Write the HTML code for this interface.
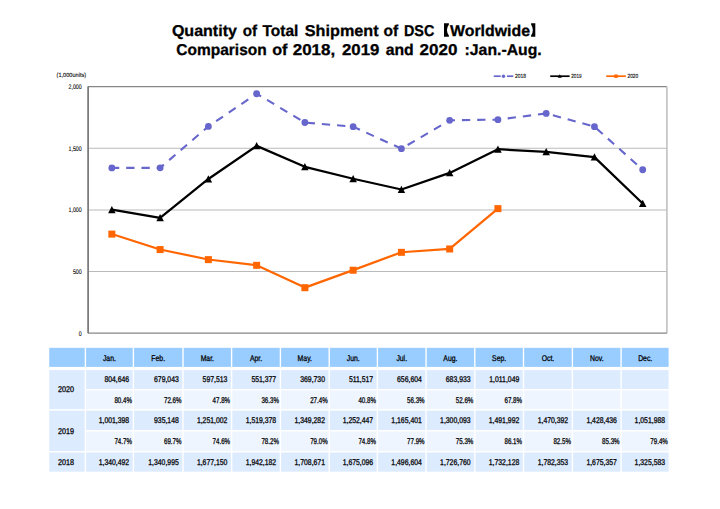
<!DOCTYPE html>
<html><head><meta charset="utf-8"><title>DSC Shipment</title>
<style>html,body{margin:0;padding:0;background:#fff;}svg{display:block;text-rendering:geometricPrecision;}body{font-family:"Liberation Sans",sans-serif;}</style>
</head><body>
<svg width="720" height="509" viewBox="0 0 720 509">
<rect width="720" height="509" fill="#fff"/>
<g font-family="Liberation Sans, sans-serif" font-weight="bold" font-size="15.7" fill="#000" stroke="#000" stroke-width="0.3">
<text x="171.90" y="35.60" textLength="64.99" lengthAdjust="spacingAndGlyphs">Quantity</text>
<text x="242.80" y="35.60" textLength="14.37" lengthAdjust="spacingAndGlyphs">of</text>
<text x="262.50" y="35.60" textLength="35.81" lengthAdjust="spacingAndGlyphs">Total</text>
<text x="304.80" y="35.60" textLength="73.79" lengthAdjust="spacingAndGlyphs">Shipment</text>
<text x="383.60" y="35.60" textLength="14.67" lengthAdjust="spacingAndGlyphs">of</text>
<text x="404.00" y="35.60" textLength="30.30" lengthAdjust="spacingAndGlyphs">DSC</text>
<text x="450.00" y="35.60" textLength="80.00" lengthAdjust="spacingAndGlyphs">Worldwide</text>
<text x="176.30" y="54.70" textLength="90.40" lengthAdjust="spacingAndGlyphs">Comparison</text>
<text x="272.20" y="54.70" textLength="15.27" lengthAdjust="spacingAndGlyphs">of</text>
<text x="292.70" y="54.70" textLength="42.51" lengthAdjust="spacingAndGlyphs">2018,</text>
<text x="342.00" y="54.70" textLength="37.39" lengthAdjust="spacingAndGlyphs">2019</text>
<text x="385.70" y="54.70" textLength="28.00" lengthAdjust="spacingAndGlyphs">and</text>
<text x="419.60" y="54.70" textLength="37.89" lengthAdjust="spacingAndGlyphs">2020</text>
<text x="464.60" y="54.70" textLength="77.10" lengthAdjust="spacingAndGlyphs">:Jan.-Aug.</text>
</g>
<path d="M444 23.2 H448.9 V24.4 Q445.0 30 448.9 35.5 V36.7 H444 Z" fill="#000"/>
<path d="M535.3 23.2 H531.1 V24.4 Q534.6 30 531.1 35.5 V36.7 H535.3 Z" fill="#000"/>
<line x1="88.1" x2="666.9" y1="271.55" y2="271.55" stroke="#bababa" stroke-width="1.05"/>
<line x1="88.1" x2="666.9" y1="209.90" y2="209.90" stroke="#bababa" stroke-width="1.05"/>
<line x1="88.1" x2="666.9" y1="148.25" y2="148.25" stroke="#bababa" stroke-width="1.05"/>
<line x1="88.1" x2="666.9" y1="86.6" y2="86.6" stroke="#868686" stroke-width="1.2"/>
<line x1="666.9" x2="666.9" y1="86.6" y2="333.2" stroke="#bdbdbd" stroke-width="1.5"/>
<line x1="88.1" x2="666.9" y1="333.2" y2="333.2" stroke="#868686" stroke-width="1.2"/>
<line x1="88.1" x2="88.1" y1="86.6" y2="333.2" stroke="#6e6e6e" stroke-width="1.6"/>
<g font-family="Liberation Sans, sans-serif" font-size="6.6" fill="#000" stroke="#000" stroke-width="0.1">
<text x="78.76" y="335.65" textLength="2.94" lengthAdjust="spacingAndGlyphs">0</text>
<text x="72.89" y="274.00" textLength="8.81" lengthAdjust="spacingAndGlyphs">500</text>
<text x="68.49" y="212.35" textLength="13.21" lengthAdjust="spacingAndGlyphs">1,000</text>
<text x="68.49" y="150.70" textLength="13.21" lengthAdjust="spacingAndGlyphs">1,500</text>
<text x="68.49" y="89.05" textLength="13.21" lengthAdjust="spacingAndGlyphs">2,000</text>
</g>
<text x="56.6" y="77.3" font-family="Liberation Sans, sans-serif" font-size="6" stroke="#000" stroke-width="0.1" textLength="29.5" lengthAdjust="spacingAndGlyphs">(1,000units)</text>
<polyline points="111.85,167.92 160.11,167.86 208.37,126.41 256.63,93.73 304.89,122.52 353.15,126.66 401.41,148.67 449.67,120.29 497.93,119.63 546.19,113.44 594.45,126.63 642.71,169.76" fill="none" stroke="#6666cc" stroke-width="2.1" stroke-dasharray="8.3 6.97" stroke-dashoffset="0.92"/>
<circle cx="111.85" cy="167.92" r="3.4" fill="#6666cc"/>
<circle cx="160.11" cy="167.86" r="3.4" fill="#6666cc"/>
<circle cx="208.37" cy="126.41" r="3.4" fill="#6666cc"/>
<circle cx="256.63" cy="93.73" r="3.4" fill="#6666cc"/>
<circle cx="304.89" cy="122.52" r="3.4" fill="#6666cc"/>
<circle cx="353.15" cy="126.66" r="3.4" fill="#6666cc"/>
<circle cx="401.41" cy="148.67" r="3.4" fill="#6666cc"/>
<circle cx="449.67" cy="120.29" r="3.4" fill="#6666cc"/>
<circle cx="497.93" cy="119.63" r="3.4" fill="#6666cc"/>
<circle cx="546.19" cy="113.44" r="3.4" fill="#6666cc"/>
<circle cx="594.45" cy="126.63" r="3.4" fill="#6666cc"/>
<circle cx="642.71" cy="169.76" r="3.4" fill="#6666cc"/>
<polyline points="111.85,209.73 160.11,217.90 208.37,178.95 256.63,145.86 304.89,166.83 353.15,178.77 401.41,189.51 449.67,172.90 497.93,149.24 546.19,151.90 594.45,157.07 642.71,203.49" fill="none" stroke="#000000" stroke-width="2.25" stroke-linejoin="round"/>
<path d="M111.85 205.93 L115.60 213.18 L108.10 213.18 Z" fill="#000000"/>
<path d="M160.11 214.10 L163.86 221.35 L156.36 221.35 Z" fill="#000000"/>
<path d="M208.37 175.15 L212.12 182.40 L204.62 182.40 Z" fill="#000000"/>
<path d="M256.63 142.06 L260.38 149.31 L252.88 149.31 Z" fill="#000000"/>
<path d="M304.89 163.03 L308.64 170.28 L301.14 170.28 Z" fill="#000000"/>
<path d="M353.15 174.97 L356.90 182.22 L349.40 182.22 Z" fill="#000000"/>
<path d="M401.41 185.71 L405.16 192.96 L397.66 192.96 Z" fill="#000000"/>
<path d="M449.67 169.10 L453.42 176.35 L445.92 176.35 Z" fill="#000000"/>
<path d="M497.93 145.44 L501.68 152.69 L494.18 152.69 Z" fill="#000000"/>
<path d="M546.19 148.10 L549.94 155.35 L542.44 155.35 Z" fill="#000000"/>
<path d="M594.45 153.27 L598.20 160.52 L590.70 160.52 Z" fill="#000000"/>
<path d="M642.71 199.69 L646.46 206.94 L638.96 206.94 Z" fill="#000000"/>
<polyline points="111.85,233.99 160.11,249.47 208.37,259.53 256.63,265.22 304.89,287.61 353.15,270.13 401.41,252.24 449.67,248.87 497.93,208.54" fill="none" stroke="#ff6600" stroke-width="2.2" stroke-linejoin="round"/>
<rect x="108.35" y="230.59" width="7.0" height="7.0" fill="#ff6600"/>
<rect x="156.61" y="246.07" width="7.0" height="7.0" fill="#ff6600"/>
<rect x="204.87" y="256.13" width="7.0" height="7.0" fill="#ff6600"/>
<rect x="253.13" y="261.82" width="7.0" height="7.0" fill="#ff6600"/>
<rect x="301.39" y="284.21" width="7.0" height="7.0" fill="#ff6600"/>
<rect x="349.65" y="266.73" width="7.0" height="7.0" fill="#ff6600"/>
<rect x="397.91" y="248.84" width="7.0" height="7.0" fill="#ff6600"/>
<rect x="446.17" y="245.47" width="7.0" height="7.0" fill="#ff6600"/>
<rect x="494.43" y="205.14" width="7.0" height="7.0" fill="#ff6600"/>
<line x1="493.75" x2="500.7" y1="76.2" y2="76.2" stroke="#6666cc" stroke-width="1.7"/>
<line x1="507" x2="513.3" y1="76.2" y2="76.2" stroke="#6666cc" stroke-width="1.7"/>
<circle cx="503.5" cy="76.2" r="1.7" fill="#6666cc"/>
<line x1="550.2" x2="569.6" y1="76.2" y2="76.2" stroke="#000000" stroke-width="1.7"/>
<path d="M559.8 74.20 L561.8 77.80 L557.8 77.80 Z" fill="#000000"/>
<line x1="606.25" x2="625.8" y1="76.2" y2="76.2" stroke="#ff6600" stroke-width="1.7"/>
<rect x="614.3" y="74.50" width="3.4" height="3.4" fill="#ff6600"/>
<g font-family="Liberation Sans, sans-serif" font-size="6" fill="#000" stroke="#000" stroke-width="0.1">
<text x="515" y="78.40" textLength="11" lengthAdjust="spacingAndGlyphs">2018</text>
<text x="571.25" y="78.40" textLength="10.5" lengthAdjust="spacingAndGlyphs">2019</text>
<text x="627.5" y="78.40" textLength="10.7" lengthAdjust="spacingAndGlyphs">2020</text>
</g>
<rect x="49.25" y="347.80" width="35.45" height="19.10" fill="#99ccff"/>
<rect x="86.10" y="347.80" width="46.60" height="19.10" fill="#99ccff"/>
<rect x="86.10" y="370.10" width="46.60" height="18.90" fill="#ddebff"/>
<rect x="86.10" y="390.45" width="46.60" height="18.70" fill="#eef5ff"/>
<rect x="86.10" y="410.65" width="46.60" height="19.35" fill="#ddebff"/>
<rect x="86.10" y="431.50" width="46.60" height="19.50" fill="#eef5ff"/>
<rect x="86.10" y="452.50" width="46.60" height="19.20" fill="#ddebff"/>
<rect x="134.10" y="347.80" width="48.20" height="19.10" fill="#99ccff"/>
<rect x="134.10" y="370.10" width="48.20" height="18.90" fill="#ddebff"/>
<rect x="134.10" y="390.45" width="48.20" height="18.70" fill="#eef5ff"/>
<rect x="134.10" y="410.65" width="48.20" height="19.35" fill="#ddebff"/>
<rect x="134.10" y="431.50" width="48.20" height="19.50" fill="#eef5ff"/>
<rect x="134.10" y="452.50" width="48.20" height="19.20" fill="#ddebff"/>
<rect x="183.70" y="347.80" width="47.20" height="19.10" fill="#99ccff"/>
<rect x="183.70" y="370.10" width="47.20" height="18.90" fill="#ddebff"/>
<rect x="183.70" y="390.45" width="47.20" height="18.70" fill="#eef5ff"/>
<rect x="183.70" y="410.65" width="47.20" height="19.35" fill="#ddebff"/>
<rect x="183.70" y="431.50" width="47.20" height="19.50" fill="#eef5ff"/>
<rect x="183.70" y="452.50" width="47.20" height="19.20" fill="#ddebff"/>
<rect x="232.30" y="347.80" width="47.40" height="19.10" fill="#99ccff"/>
<rect x="232.30" y="370.10" width="47.40" height="18.90" fill="#ddebff"/>
<rect x="232.30" y="390.45" width="47.40" height="18.70" fill="#eef5ff"/>
<rect x="232.30" y="410.65" width="47.40" height="19.35" fill="#ddebff"/>
<rect x="232.30" y="431.50" width="47.40" height="19.50" fill="#eef5ff"/>
<rect x="232.30" y="452.50" width="47.40" height="19.20" fill="#ddebff"/>
<rect x="281.10" y="347.80" width="47.40" height="19.10" fill="#99ccff"/>
<rect x="281.10" y="370.10" width="47.40" height="18.90" fill="#ddebff"/>
<rect x="281.10" y="390.45" width="47.40" height="18.70" fill="#eef5ff"/>
<rect x="281.10" y="410.65" width="47.40" height="19.35" fill="#ddebff"/>
<rect x="281.10" y="431.50" width="47.40" height="19.50" fill="#eef5ff"/>
<rect x="281.10" y="452.50" width="47.40" height="19.20" fill="#ddebff"/>
<rect x="329.90" y="347.80" width="46.80" height="19.10" fill="#99ccff"/>
<rect x="329.90" y="370.10" width="46.80" height="18.90" fill="#ddebff"/>
<rect x="329.90" y="390.45" width="46.80" height="18.70" fill="#eef5ff"/>
<rect x="329.90" y="410.65" width="46.80" height="19.35" fill="#ddebff"/>
<rect x="329.90" y="431.50" width="46.80" height="19.50" fill="#eef5ff"/>
<rect x="329.90" y="452.50" width="46.80" height="19.20" fill="#ddebff"/>
<rect x="378.10" y="347.80" width="47.25" height="19.10" fill="#99ccff"/>
<rect x="378.10" y="370.10" width="47.25" height="18.90" fill="#ddebff"/>
<rect x="378.10" y="390.45" width="47.25" height="18.70" fill="#eef5ff"/>
<rect x="378.10" y="410.65" width="47.25" height="19.35" fill="#ddebff"/>
<rect x="378.10" y="431.50" width="47.25" height="19.50" fill="#eef5ff"/>
<rect x="378.10" y="452.50" width="47.25" height="19.20" fill="#ddebff"/>
<rect x="426.75" y="347.80" width="47.35" height="19.10" fill="#99ccff"/>
<rect x="426.75" y="370.10" width="47.35" height="18.90" fill="#ddebff"/>
<rect x="426.75" y="390.45" width="47.35" height="18.70" fill="#eef5ff"/>
<rect x="426.75" y="410.65" width="47.35" height="19.35" fill="#ddebff"/>
<rect x="426.75" y="431.50" width="47.35" height="19.50" fill="#eef5ff"/>
<rect x="426.75" y="452.50" width="47.35" height="19.20" fill="#ddebff"/>
<rect x="475.50" y="347.80" width="47.30" height="19.10" fill="#99ccff"/>
<rect x="475.50" y="370.10" width="47.30" height="18.90" fill="#ddebff"/>
<rect x="475.50" y="390.45" width="47.30" height="18.70" fill="#eef5ff"/>
<rect x="475.50" y="410.65" width="47.30" height="19.35" fill="#ddebff"/>
<rect x="475.50" y="431.50" width="47.30" height="19.50" fill="#eef5ff"/>
<rect x="475.50" y="452.50" width="47.30" height="19.20" fill="#ddebff"/>
<rect x="524.20" y="347.80" width="47.50" height="19.10" fill="#99ccff"/>
<rect x="524.20" y="370.10" width="47.50" height="18.90" fill="#ddebff"/>
<rect x="524.20" y="390.45" width="47.50" height="18.70" fill="#eef5ff"/>
<rect x="524.20" y="410.65" width="47.50" height="19.35" fill="#ddebff"/>
<rect x="524.20" y="431.50" width="47.50" height="19.50" fill="#eef5ff"/>
<rect x="524.20" y="452.50" width="47.50" height="19.20" fill="#ddebff"/>
<rect x="573.10" y="347.80" width="47.30" height="19.10" fill="#99ccff"/>
<rect x="573.10" y="370.10" width="47.30" height="18.90" fill="#ddebff"/>
<rect x="573.10" y="390.45" width="47.30" height="18.70" fill="#eef5ff"/>
<rect x="573.10" y="410.65" width="47.30" height="19.35" fill="#ddebff"/>
<rect x="573.10" y="431.50" width="47.30" height="19.50" fill="#eef5ff"/>
<rect x="573.10" y="452.50" width="47.30" height="19.20" fill="#ddebff"/>
<rect x="621.80" y="347.80" width="46.80" height="19.10" fill="#99ccff"/>
<rect x="621.80" y="370.10" width="46.80" height="18.90" fill="#ddebff"/>
<rect x="621.80" y="390.45" width="46.80" height="18.70" fill="#eef5ff"/>
<rect x="621.80" y="410.65" width="46.80" height="19.35" fill="#ddebff"/>
<rect x="621.80" y="431.50" width="46.80" height="19.50" fill="#eef5ff"/>
<rect x="621.80" y="452.50" width="46.80" height="19.20" fill="#ddebff"/>
<rect x="49.25" y="370.10" width="35.45" height="39.05" fill="#ddebff"/>
<rect x="49.25" y="410.65" width="35.45" height="40.35" fill="#ddebff"/>
<rect x="49.25" y="452.50" width="35.45" height="19.20" fill="#ddebff"/>
<g font-family="Liberation Sans, sans-serif" font-size="8.3" fill="#000" stroke="#000" stroke-width="0.28">
<text x="102.92" y="360.60" textLength="12.97" lengthAdjust="spacingAndGlyphs">Jan.</text>
<text x="151.34" y="360.60" textLength="13.73" lengthAdjust="spacingAndGlyphs">Feb.</text>
<text x="200.63" y="360.60" textLength="13.34" lengthAdjust="spacingAndGlyphs">Mar.</text>
<text x="249.90" y="360.60" textLength="12.20" lengthAdjust="spacingAndGlyphs">Apr.</text>
<text x="297.62" y="360.60" textLength="14.36" lengthAdjust="spacingAndGlyphs">May.</text>
<text x="346.82" y="360.60" textLength="12.97" lengthAdjust="spacingAndGlyphs">Jun.</text>
<text x="396.39" y="360.60" textLength="10.68" lengthAdjust="spacingAndGlyphs">Jul.</text>
<text x="443.37" y="360.60" textLength="14.11" lengthAdjust="spacingAndGlyphs">Aug.</text>
<text x="492.09" y="360.60" textLength="14.11" lengthAdjust="spacingAndGlyphs">Sep.</text>
<text x="541.66" y="360.60" textLength="12.58" lengthAdjust="spacingAndGlyphs">Oct.</text>
<text x="589.95" y="360.60" textLength="13.60" lengthAdjust="spacingAndGlyphs">Nov.</text>
<text x="638.15" y="360.60" textLength="14.11" lengthAdjust="spacingAndGlyphs">Dec.</text>
<text x="104.40" y="382.30" textLength="24.80" lengthAdjust="spacingAndGlyphs">804,646</text>
<text x="154.00" y="382.30" textLength="24.80" lengthAdjust="spacingAndGlyphs">679,043</text>
<text x="202.60" y="382.30" textLength="24.80" lengthAdjust="spacingAndGlyphs">597,513</text>
<text x="251.40" y="382.30" textLength="24.80" lengthAdjust="spacingAndGlyphs">551,377</text>
<text x="300.20" y="382.30" textLength="24.80" lengthAdjust="spacingAndGlyphs">369,730</text>
<text x="348.91" y="382.30" textLength="24.29" lengthAdjust="spacingAndGlyphs">511,517</text>
<text x="397.05" y="382.30" textLength="24.80" lengthAdjust="spacingAndGlyphs">656,604</text>
<text x="445.80" y="382.30" textLength="24.80" lengthAdjust="spacingAndGlyphs">683,933</text>
<text x="489.29" y="382.30" textLength="30.01" lengthAdjust="spacingAndGlyphs">1,011,049</text>
<text x="114.40" y="402.55" textLength="17.50" lengthAdjust="spacingAndGlyphs">80.4%</text>
<text x="164.00" y="402.55" textLength="17.50" lengthAdjust="spacingAndGlyphs">72.6%</text>
<text x="212.60" y="402.55" textLength="17.50" lengthAdjust="spacingAndGlyphs">47.8%</text>
<text x="261.40" y="402.55" textLength="17.50" lengthAdjust="spacingAndGlyphs">36.3%</text>
<text x="310.20" y="402.55" textLength="17.50" lengthAdjust="spacingAndGlyphs">27.4%</text>
<text x="358.40" y="402.55" textLength="17.50" lengthAdjust="spacingAndGlyphs">40.8%</text>
<text x="407.05" y="402.55" textLength="17.50" lengthAdjust="spacingAndGlyphs">56.3%</text>
<text x="455.80" y="402.55" textLength="17.50" lengthAdjust="spacingAndGlyphs">52.6%</text>
<text x="504.50" y="402.55" textLength="17.50" lengthAdjust="spacingAndGlyphs">67.8%</text>
<text x="98.68" y="423.07" textLength="30.52" lengthAdjust="spacingAndGlyphs">1,001,398</text>
<text x="154.00" y="423.07" textLength="24.80" lengthAdjust="spacingAndGlyphs">935,148</text>
<text x="196.88" y="423.07" textLength="30.52" lengthAdjust="spacingAndGlyphs">1,251,002</text>
<text x="245.68" y="423.07" textLength="30.52" lengthAdjust="spacingAndGlyphs">1,519,378</text>
<text x="294.48" y="423.07" textLength="30.52" lengthAdjust="spacingAndGlyphs">1,349,282</text>
<text x="342.68" y="423.07" textLength="30.52" lengthAdjust="spacingAndGlyphs">1,252,447</text>
<text x="391.33" y="423.07" textLength="30.52" lengthAdjust="spacingAndGlyphs">1,165,401</text>
<text x="440.08" y="423.07" textLength="30.52" lengthAdjust="spacingAndGlyphs">1,300,093</text>
<text x="488.78" y="423.07" textLength="30.52" lengthAdjust="spacingAndGlyphs">1,491,992</text>
<text x="537.68" y="423.07" textLength="30.52" lengthAdjust="spacingAndGlyphs">1,470,392</text>
<text x="586.38" y="423.07" textLength="30.52" lengthAdjust="spacingAndGlyphs">1,428,436</text>
<text x="634.58" y="423.07" textLength="30.52" lengthAdjust="spacingAndGlyphs">1,051,988</text>
<text x="114.40" y="444.00" textLength="17.50" lengthAdjust="spacingAndGlyphs">74.7%</text>
<text x="164.00" y="444.00" textLength="17.50" lengthAdjust="spacingAndGlyphs">69.7%</text>
<text x="212.60" y="444.00" textLength="17.50" lengthAdjust="spacingAndGlyphs">74.6%</text>
<text x="261.40" y="444.00" textLength="17.50" lengthAdjust="spacingAndGlyphs">78.2%</text>
<text x="310.20" y="444.00" textLength="17.50" lengthAdjust="spacingAndGlyphs">79.0%</text>
<text x="358.40" y="444.00" textLength="17.50" lengthAdjust="spacingAndGlyphs">74.8%</text>
<text x="407.05" y="444.00" textLength="17.50" lengthAdjust="spacingAndGlyphs">77.9%</text>
<text x="455.80" y="444.00" textLength="17.50" lengthAdjust="spacingAndGlyphs">75.3%</text>
<text x="504.50" y="444.00" textLength="17.50" lengthAdjust="spacingAndGlyphs">86.1%</text>
<text x="553.40" y="444.00" textLength="17.50" lengthAdjust="spacingAndGlyphs">82.5%</text>
<text x="602.10" y="444.00" textLength="17.50" lengthAdjust="spacingAndGlyphs">85.3%</text>
<text x="650.30" y="444.00" textLength="17.50" lengthAdjust="spacingAndGlyphs">79.4%</text>
<text x="98.68" y="464.85" textLength="30.52" lengthAdjust="spacingAndGlyphs">1,340,492</text>
<text x="148.28" y="464.85" textLength="30.52" lengthAdjust="spacingAndGlyphs">1,340,995</text>
<text x="196.88" y="464.85" textLength="30.52" lengthAdjust="spacingAndGlyphs">1,677,150</text>
<text x="245.68" y="464.85" textLength="30.52" lengthAdjust="spacingAndGlyphs">1,942,182</text>
<text x="294.48" y="464.85" textLength="30.52" lengthAdjust="spacingAndGlyphs">1,708,671</text>
<text x="342.68" y="464.85" textLength="30.52" lengthAdjust="spacingAndGlyphs">1,675,096</text>
<text x="391.33" y="464.85" textLength="30.52" lengthAdjust="spacingAndGlyphs">1,496,604</text>
<text x="440.08" y="464.85" textLength="30.52" lengthAdjust="spacingAndGlyphs">1,726,760</text>
<text x="488.78" y="464.85" textLength="30.52" lengthAdjust="spacingAndGlyphs">1,732,128</text>
<text x="537.68" y="464.85" textLength="30.52" lengthAdjust="spacingAndGlyphs">1,782,353</text>
<text x="586.38" y="464.85" textLength="30.52" lengthAdjust="spacingAndGlyphs">1,675,357</text>
<text x="634.58" y="464.85" textLength="30.52" lengthAdjust="spacingAndGlyphs">1,325,583</text>
<text x="58.00" y="392.38" textLength="16.10" lengthAdjust="spacingAndGlyphs">2020</text>
<text x="58.00" y="433.57" textLength="16.10" lengthAdjust="spacingAndGlyphs">2019</text>
<text x="58.00" y="464.85" textLength="16.10" lengthAdjust="spacingAndGlyphs">2018</text>
</g>
</svg>
</body></html>
